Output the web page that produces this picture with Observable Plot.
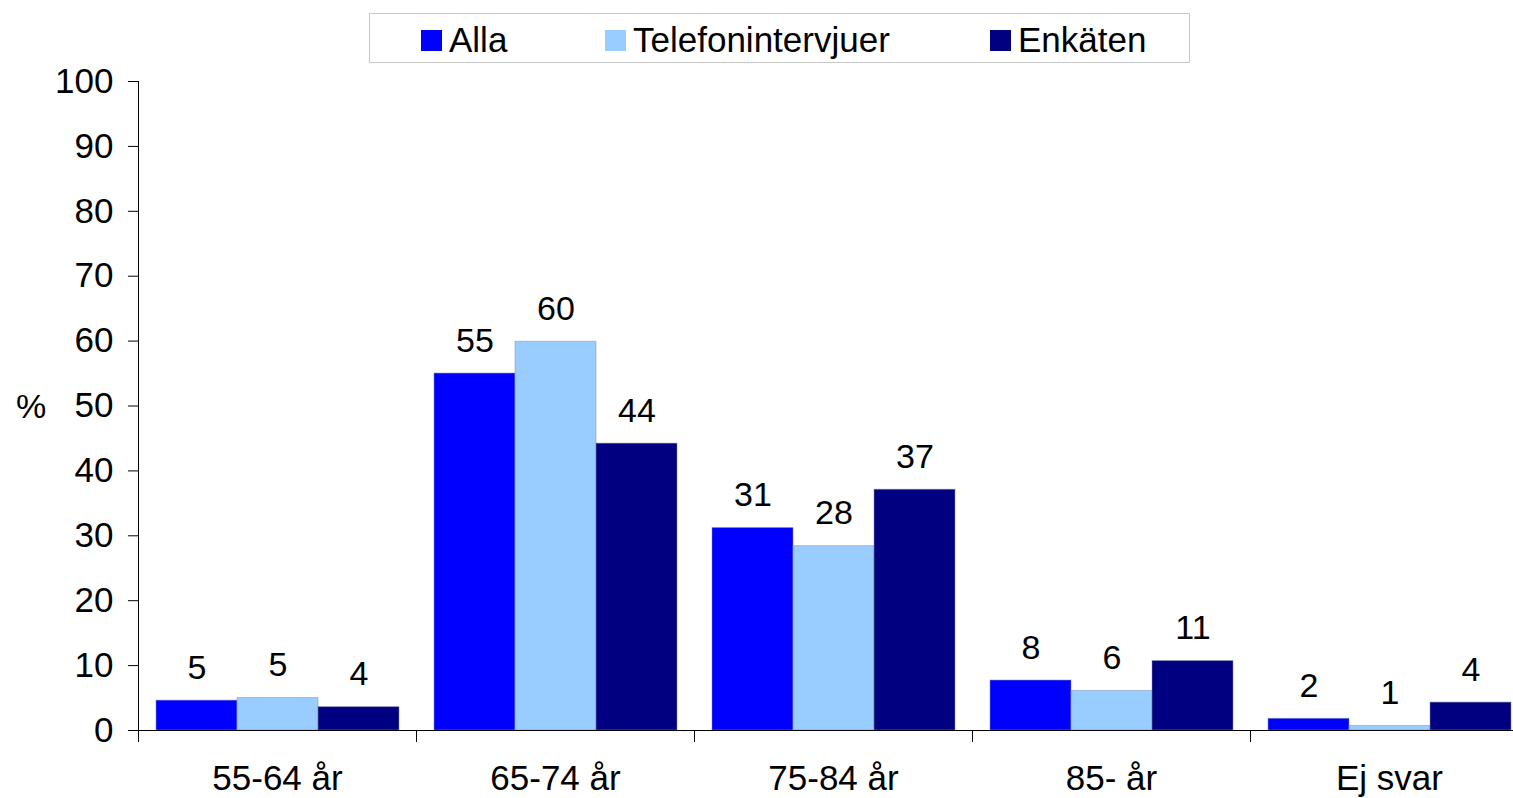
<!DOCTYPE html>
<html><head><meta charset="utf-8">
<script src="https://cdn.jsdelivr.net/npm/d3@7"></script>
<script src="https://cdn.jsdelivr.net/npm/@observablehq/plot@0.6"></script>
<style>
body{margin:0;background:#fff;font-family:"Liberation Sans",Arial,sans-serif;}
#wrap{position:relative;width:1513px;height:798px;overflow:hidden;background:#fff}
#chart{position:absolute;left:0;top:0}
#legend{position:absolute;left:369px;top:13px;width:819px;height:48px;border:1px solid #c8c8c8;background:#fff;font-size:35px;color:#000}
.item{position:absolute;top:2px;height:48px;display:flex;align-items:center;white-space:nowrap}
.sw{width:21px;height:21px;margin-right:7px;box-sizing:border-box}
#pct{position:absolute;left:16px;top:388px;font-size:34px;line-height:36px;color:#000}
</style></head>
<body>
<div id="wrap">
  <div id="chart"></div>
  <div id="legend"></div>
  <div id="pct">%</div>
</div>
<script>
// ---- data ----
const categories = ["55-64 år", "65-74 år", "75-84 år", "85- år", "Ej svar"];
const series = ["Alla", "Telefonintervjuer", "Enkäten"];
const colors = ["#0000ff", "#99ccff", "#000080"];
const alla = [4.6, 55.0, 31.2, 7.7, 1.8];
const telefon = [5.0, 59.9, 28.4, 6.1, 0.7];
const enkaten = [3.6, 44.2, 37.1, 10.7, 4.3];
const yTicks = [0, 10, 20, 30, 40, 50, 60, 70, 80, 90, 100];

const seriesValues = [alla, telefon, enkaten];
const data = categories.flatMap((c, i) =>
  series.map((s, j) => ({cat: c, series: s, value: seriesValues[j][i]})));

const W = 1513, H = 798;
const left = 138, right = 1528; // plot area extends beyond the picture on the right
const band = (right - left) / categories.length;

const chart = Plot.plot({
  width: W, height: H,
  marginLeft: left, marginRight: 0, marginTop: 81, marginBottom: 68,
  style: {fontFamily: "Liberation Sans, Arial, sans-serif", fontSize: "35px", color: "#000", background: "transparent", overflow: "hidden"},
  fx: {domain: categories, range: [left, right], padding: 0, axis: null, label: null},
  x: {domain: series, paddingInner: 0, paddingOuter: 0.2, axis: null},
  y: {domain: [0, 100], ticks: yTicks, tickSize: 10, tickPadding: 15, line: true, label: null},
  color: {domain: series, range: colors},
  marks: [
    Plot.barY(data, {fx: "cat", x: "series", y: "value", fill: "series", stroke: "#7f8fb0", strokeOpacity: 0.5, strokeWidth: 1}),
    Plot.text(data, {fx: "cat", x: "series", y: "value", text: d => String(Math.round(d.value)), lineAnchor: "bottom", dy: -22, fill: "#000", fontSize: 34}),
    Plot.ruleY([0], {stroke: "#000"}),
    Plot.axisFx({anchor: "bottom", tickSize: 0, tickPadding: 35, label: null}),
    Plot.axisFx({anchor: "bottom", tickSize: 12, tickFormat: () => "", dx: -band / 2, label: null})
  ]
});
document.getElementById("chart").appendChild(chart);

// legend
const legend = document.getElementById("legend");
const legendLeft = [51, 235, 620];
series.forEach((s, j) => {
  const it = document.createElement("div");
  it.className = "item";
  it.style.left = legendLeft[j] + "px";
  const sw = document.createElement("div");
  sw.className = "sw";
  sw.style.background = colors[j];
  const t = document.createElement("span");
  t.textContent = s;
  it.appendChild(sw); it.appendChild(t);
  legend.appendChild(it);
});
</script>
</body></html>
